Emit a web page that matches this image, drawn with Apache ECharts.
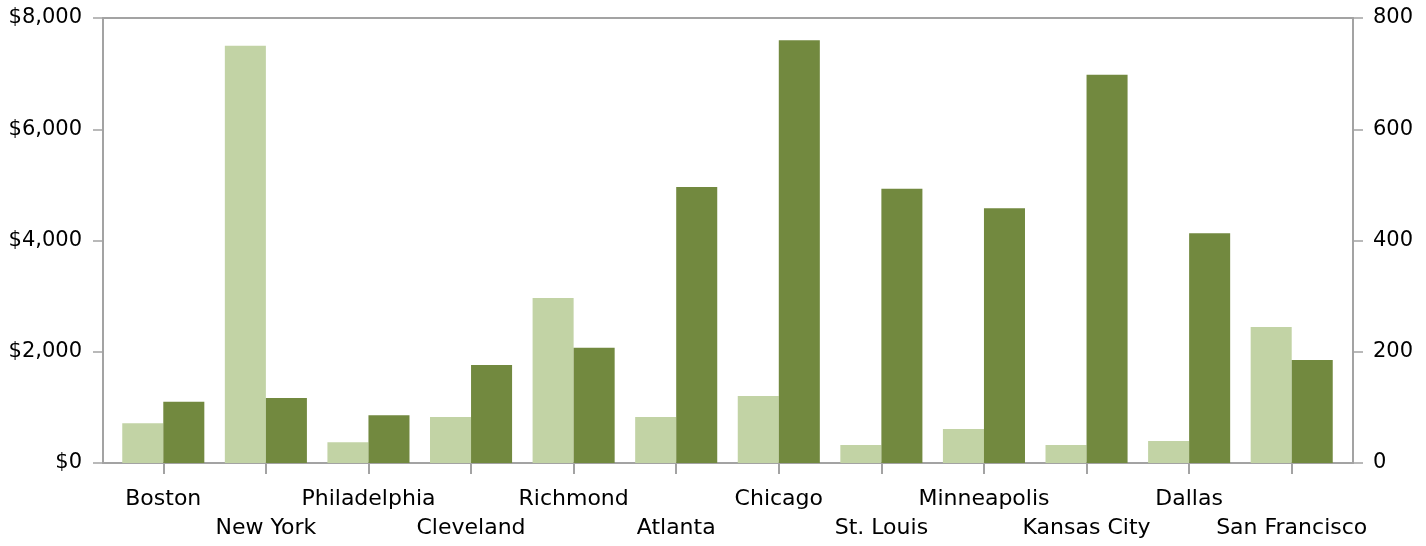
<!DOCTYPE html>
<html><head><meta charset="utf-8">
<script src="https://cdn.jsdelivr.net/npm/echarts@6/dist/echarts.min.js"></script>
<style>html,body{margin:0;padding:0;background:#fff}#c{width:1426px;height:546px}</style>
</head><body><div id="c"></div>
<script>
const categories = ['Boston','New York','Philadelphia','Cleveland','Richmond','Atlanta','Chicago','St. Louis','Minneapolis','Kansas City','Dallas','San Francisco'];
const leftValues = [715, 7500, 372, 827, 2966, 827, 1204, 324, 611, 324, 395, 2445];
const rightValues = [110, 117, 86, 176, 207, 496, 760, 493, 458, 698, 413, 185];
const leftTicks = {min: 0, max: 8000, interval: 2000};
const rightTicks = {min: 0, max: 800, interval: 200};

const AX = '#a3a3a3';
const FONT = 'DejaVu Sans';
const chart = echarts.init(document.getElementById('c'), null, {renderer: 'canvas'});
const hiddenAxis = {show: false};
chart.setOption({
  animation: false,
  backgroundColor: '#fff',
  grid: [
    {left: 103, right: 73, top: 18, bottom: 83},
    {left: 112, right: 83, top: 18, bottom: 83}
  ],
  xAxis: [
    {gridIndex: 0, type: 'value', min: 0, max: 1, position: 'bottom',
     axisLine: {show: true, onZero: false, lineStyle: {color: AX, width: 2}},
     axisTick: {show: false}, axisLabel: {show: false}, splitLine: {show: false}},
    {gridIndex: 0, type: 'value', min: 0, max: 1, position: 'top',
     axisLine: {show: true, onZero: false, lineStyle: {color: AX, width: 2}},
     axisTick: {show: false}, axisLabel: {show: false}, splitLine: {show: false}},
    {gridIndex: 1, type: 'category', data: categories, position: 'bottom',
     axisLine: {show: false},
     axisTick: {show: true, alignWithLabel: true, length: 11, lineStyle: {color: AX, width: 2}},
     axisLabel: {interval: 0, margin: 22, color: '#000', fontFamily: FONT, fontSize: 22, lineHeight: 29,
       formatter: (v, i) => (i % 2 === 1 ? '\n' + v : v)}}
  ],
  yAxis: [
    {gridIndex: 0, type: 'value', position: 'left', ...leftTicks,
     axisLine: {show: true, onZero: false, lineStyle: {color: AX, width: 2}},
     axisTick: {show: true, length: 10, lineStyle: {color: AX, width: 1.5}},
     splitLine: {show: false},
     axisLabel: {margin: 21, color: '#000', fontFamily: FONT, fontSize: 21,
       formatter: v => '$' + v.toLocaleString('en-US')}},
    {gridIndex: 0, type: 'value', position: 'right', ...rightTicks,
     axisLine: {show: true, onZero: false, lineStyle: {color: AX, width: 2}},
     axisTick: {show: true, length: 10, lineStyle: {color: AX, width: 1.5}},
     splitLine: {show: false},
     axisLabel: {margin: 20, color: '#000', fontFamily: FONT, fontSize: 21}},
    {gridIndex: 1, type: 'value', ...leftTicks, ...hiddenAxis},
    {gridIndex: 1, type: 'value', ...rightTicks, ...hiddenAxis}
  ],
  series: [
    {type: 'bar', xAxisIndex: 2, yAxisIndex: 2, data: leftValues, barGap: '0%', barCategoryGap: '20%',
     itemStyle: {color: '#c2d3a5'}},
    {type: 'bar', xAxisIndex: 2, yAxisIndex: 3, data: rightValues, barGap: '0%', barCategoryGap: '20%',
     itemStyle: {color: '#72893f'}}
  ]
});
</script></body></html>
